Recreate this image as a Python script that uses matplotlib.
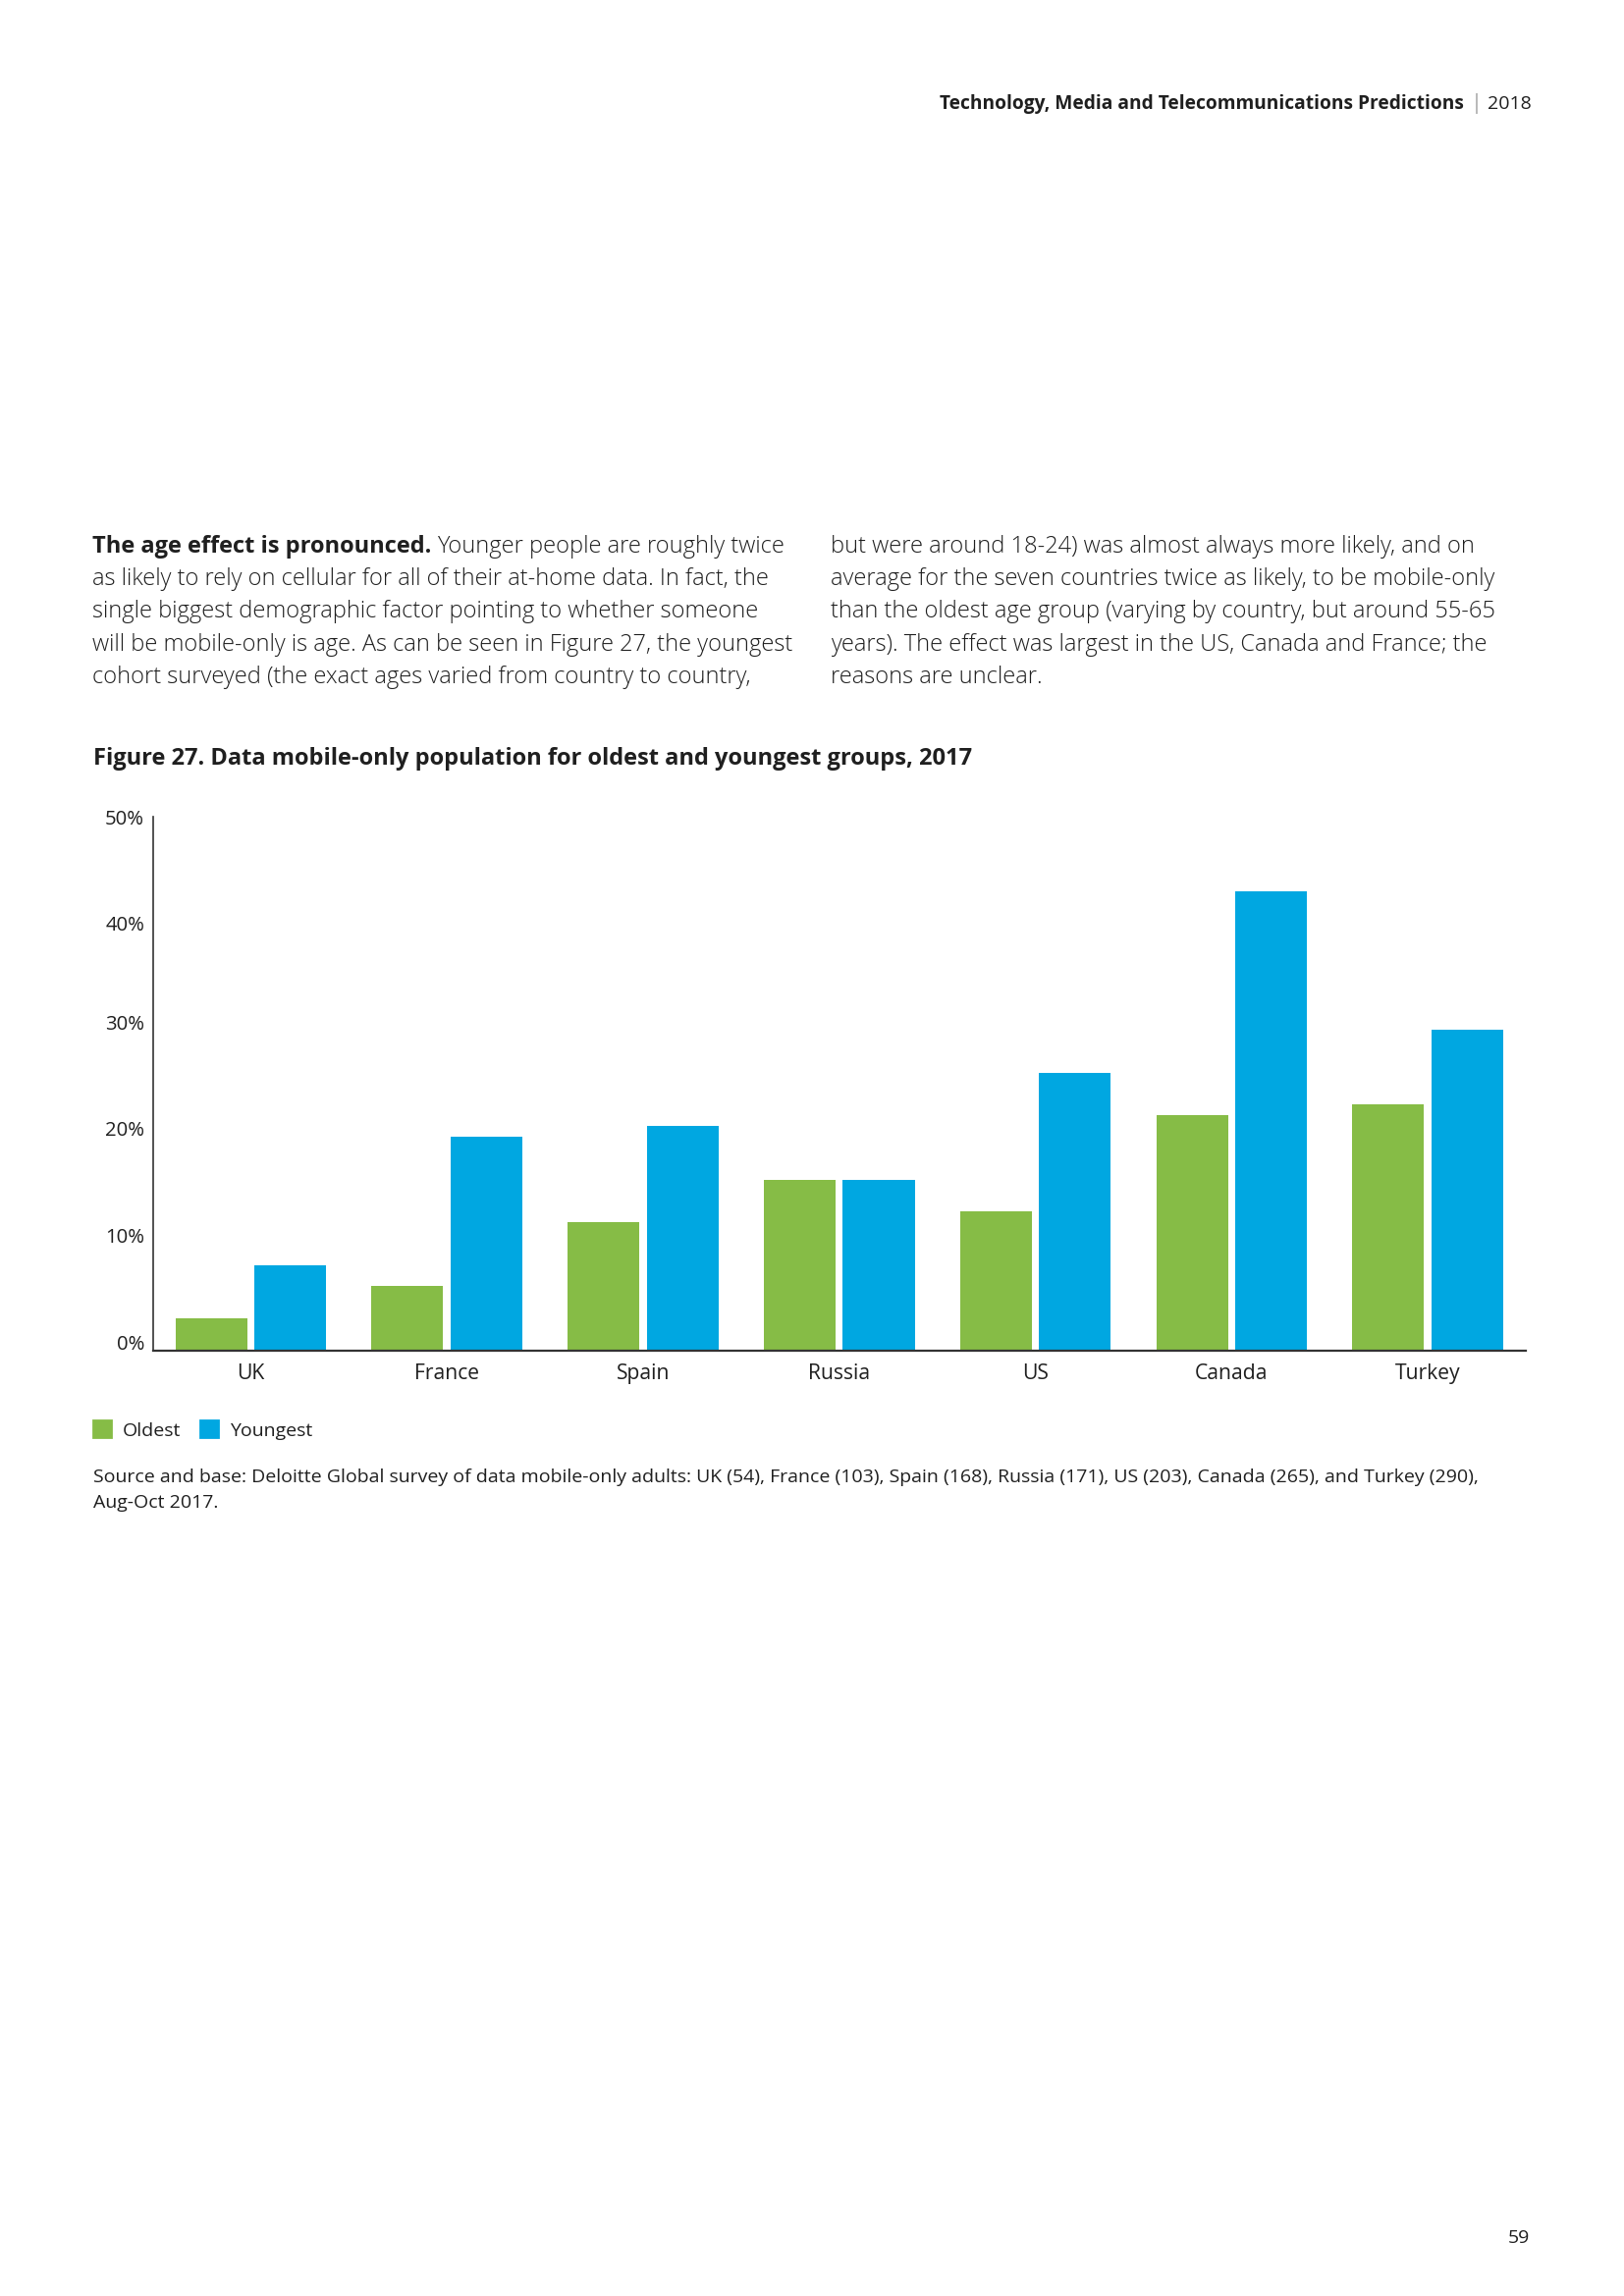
import matplotlib
matplotlib.use("Agg")
import matplotlib.pyplot as plt
import numpy as np
from matplotlib.patches import Patch
from matplotlib.transforms import ScaledTranslation

# ---------- data ----------
countries = ["UK", "France", "Spain", "Russia", "US", "Canada", "Turkey"]
oldest = [3, 6, 12, 16, 13, 22, 23]
youngest = [8, 20, 21, 16, 26, 43, 30]
y_ticks = [0, 10, 20, 30, 40, 50]
y_labels = ["0%", "10%", "20%", "30%", "40%", "50%"]

GREEN = "#86BC46"
BLUE = "#00A7E1"
TXT = "#1f1f1f"

W, H = 1654, 2339
plt.rcParams["font.family"] = ["Open Sans", "DejaVu Sans"]

fig = plt.figure(figsize=(W / 200, H / 200), dpi=200)


def fx(x):
    return x / W


def fy(y):
    return 1 - y / H


renderer = fig.canvas.get_renderer()


def text_width(t):
    bb = t.get_window_extent(renderer=renderer)
    return bb.width


# ---------- header ----------
t_year = fig.text(fx(1560), fy(106), "2018", ha="right", va="center",
                  fontsize=7.0, color=TXT)
x_cur = 1560 - text_width(t_year) - 6
t_bar = fig.text(fx(x_cur), fy(106), "|", ha="right", va="center",
                 fontsize=8, color="#777777", fontweight="light")
x_cur = x_cur - text_width(t_bar) - 6
fig.text(fx(x_cur), fy(106), "Technology, Media and Telecommunications Predictions",
         ha="right", va="center", fontsize=6.9, fontweight="bold", color=TXT)

# ---------- body text ----------
col1 = [
    "Younger people are roughly twice",
    "as likely to rely on cellular for all of their at-home data. In fact, the",
    "single biggest demographic factor pointing to whether someone",
    "will be mobile-only is age. As can be seen in Figure 27, the youngest",
    "cohort surveyed (the exact ages varied from country to country,",
]
col2 = [
    "but were around 18-24) was almost always more likely, and on",
    "average for the seven countries twice as likely, to be mobile-only",
    "than the oldest age group (varying by country, but around 55-65",
    "years). The effect was largest in the US, Canada and France; the",
    "reasons are unclear.",
]
line_y = [557, 590, 623, 657, 690]
body_fs = 8.5

t_lead = fig.text(fx(94), fy(line_y[0]), "The age effect is pronounced.",
                  ha="left", va="center", fontsize=body_fs, fontweight="bold", color=TXT)
lead_w = text_width(t_lead)
for i, line in enumerate(col1):
    x0 = 94 + (lead_w + 6 if i == 0 else 0)
    fig.text(fx(x0), fy(line_y[i]), line, ha="left", va="center",
             fontsize=body_fs, fontweight="light", color=TXT)
for i, line in enumerate(col2):
    fig.text(fx(846), fy(line_y[i]), line, ha="left", va="center",
             fontsize=body_fs, fontweight="light", color=TXT)

# ---------- title ----------
fig.text(fx(95), fy(773), "Figure 27. Data mobile-only population for oldest and youngest groups, 2017",
         ha="left", va="center", fontsize=8.5, fontweight="bold", color=TXT)

# ---------- chart ----------
ax = fig.add_axes([fx(155.5), fy(1375.5), fx(1554 - 155.5), (1375.5 - 832) / H])
x = np.arange(len(countries))
bw = 0.366
off = 0.2015
ax.bar(x - off, oldest, width=bw, color=GREEN, label="Oldest")
ax.bar(x + off, youngest, width=bw, color=BLUE, label="Youngest")

ax.set_xlim(-0.5, len(countries) - 0.5)
ax.set_ylim(0, 50)
ax.set_yticks(y_ticks)
ax.set_yticklabels(y_labels)
ax.set_xticks(x)
ax.set_xticklabels(countries)
ax.tick_params(axis="both", length=0, colors=TXT)
ax.tick_params(axis="y", pad=3, labelsize=7.3)
ax.tick_params(axis="x", pad=5, labelsize=7.6)
# lower labels sit a little above their gridline in the original
label_shift = [3, 3, 3, 3, 0, 0]
for lab, dy in zip(ax.get_yticklabels(), label_shift):
    lab.set_transform(lab.get_transform() + ScaledTranslation(0, dy / 72, fig.dpi_scale_trans))

for s in ["top", "right"]:
    ax.spines[s].set_visible(False)
ax.spines["left"].set_color("#333333")
ax.spines["left"].set_linewidth(0.6)
ax.spines["bottom"].set_color("#333333")
ax.spines["bottom"].set_linewidth(0.8)

# ---------- legend ----------
handles = [Patch(color=GREEN, label="Oldest"), Patch(color=BLUE, label="Youngest")]
fig.legend(handles=handles, loc="center left", bbox_to_anchor=(fx(95), fy(1457)),
           ncol=2, frameon=False, fontsize=7.0, handlelength=0.95, handleheight=0.95,
           handletextpad=0.6, columnspacing=1.0, borderpad=0, borderaxespad=0,
           labelcolor=TXT)

# ---------- source ----------
fig.text(fx(95), fy(1505), "Source and base: Deloitte Global survey of data mobile-only adults: UK (54), France (103), "
         "Spain (168), Russia (171), US (203), Canada (265), and Turkey (290),",
         ha="left", va="center", fontsize=7.0, color=TXT)
fig.text(fx(95), fy(1531), "Aug-Oct 2017.", ha="left", va="center", fontsize=7.0, color=TXT)

# ---------- page number ----------
fig.text(fx(1558), fy(2280), "59", ha="right", va="center", fontsize=7.0, color=TXT)

fig.savefig("out.png", dpi=200, facecolor="white")
